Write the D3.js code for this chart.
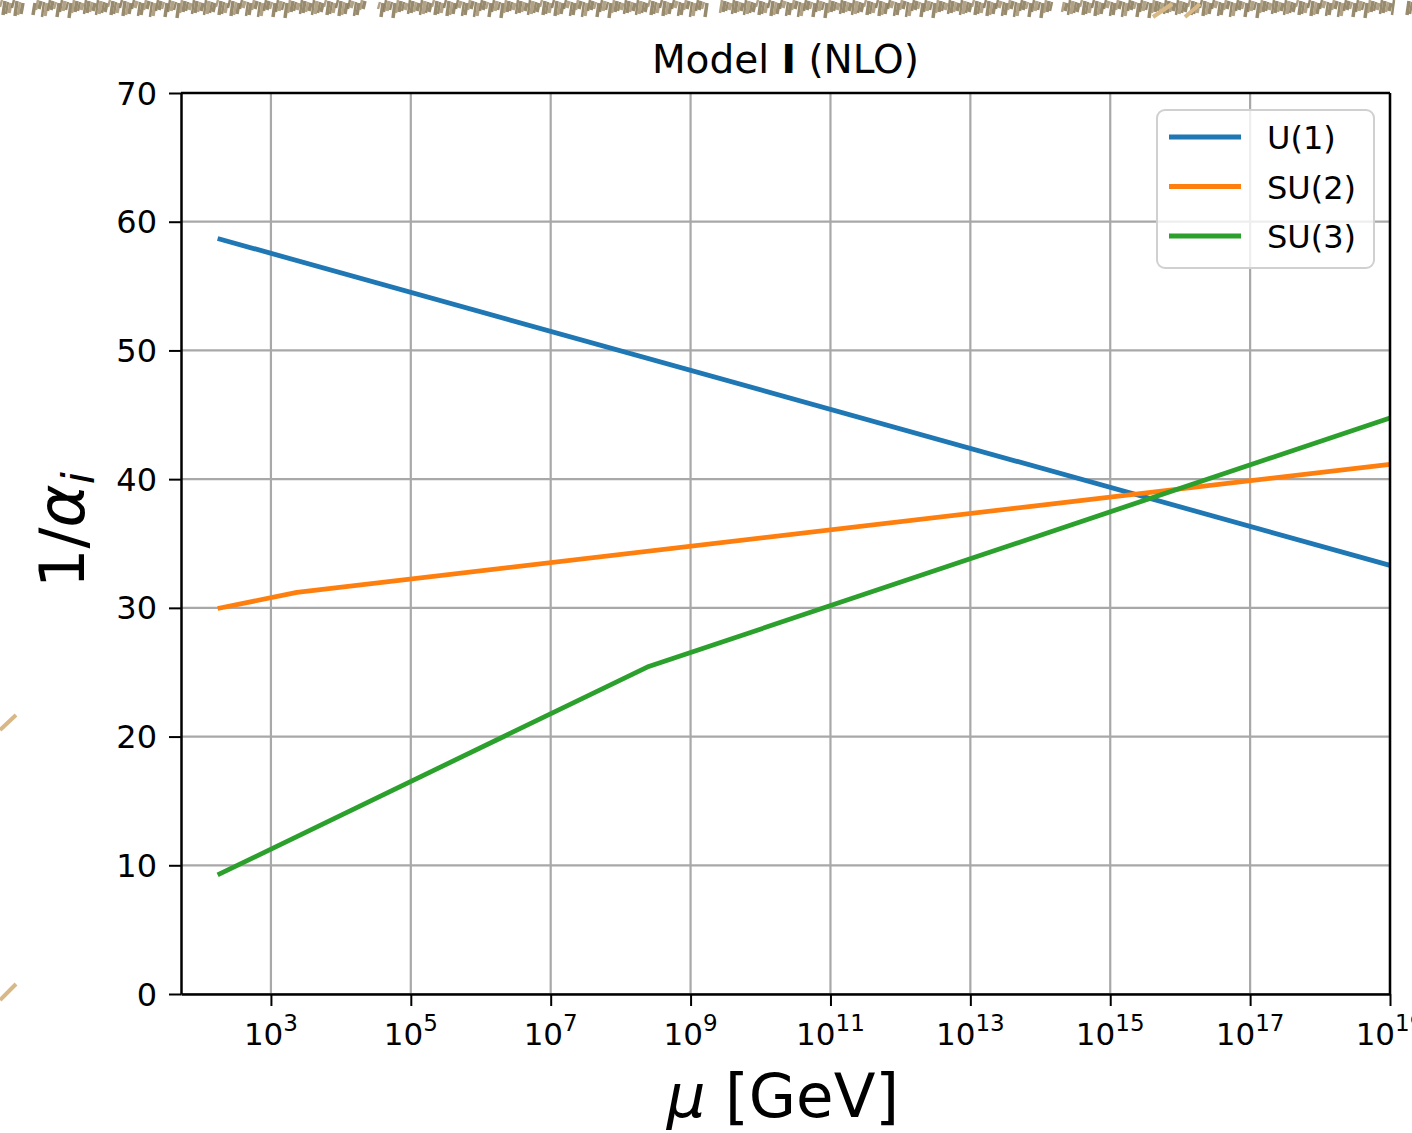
<!DOCTYPE html>
<html lang="en">
<head>
    <meta charset="UTF-8">
    <title>Model I (NLO)</title>
    <script src="https://d3js.org/d3.v7.min.js"></script>
    <style>
        body {
            margin: 0;
            padding: 0;
            background: #fff;
            overflow: hidden;
        }
        svg text {
            font-family: "DejaVu Sans", sans-serif;
            fill: #000;
        }
        .grid line {
            stroke: #a8a8a8;
            stroke-width: 2.2px;
        }
    </style>
</head>
<body>
<div id="chart"></div>
<script>
    // --- data ---
    // scale mu in GeV where each line starts / bends / ends
    const u1Mu  = [173, 1e19];
    const u1Inv = [58.7, 33.3];

    const su2Mu  = [173, 2.35e3, 1e19];
    const su2Inv = [29.95, 31.2, 41.15];

    const su3Mu  = [173, 2.4e8, 1e19];
    const su3Inv = [9.25, 25.4, 44.75];

    const seriesNames  = ["U(1)", "SU(2)", "SU(3)"];
    const seriesColors = ["#1f77b4", "#ff7f0e", "#2ca02c"];

    const xTickExps = [3, 5, 7, 9, 11, 13, 15, 17, 19];
    const yTicks = [0, 10, 20, 30, 40, 50, 60, 70];

    const W = 1412, H = 1133;
    const plot = { left: 181, right: 1390, top: 93, bottom: 994 };

    const svg = d3.select("#chart").append("svg")
        .attr("width", W)
        .attr("height", H);

    // background decoration (slide texture at the top edge + a few strokes)
    const deco = svg.append("g");
    for (let x = 0; x < W; x += 3) {
        const k = Math.floor(x / 3);
        const inGap = [0, 1, 2, 3, 4].some(i => Math.abs(x - (27 + 343 * i)) < 6);
        if (inGap) continue;
        const len = 7 + (k * 7) % 9;
        const y0 = (k * 5) % 4;
        deco.append("line")
            .attr("x1", x).attr("y1", y0 + len)
            .attr("x2", x + 2).attr("y2", y0)
            .attr("stroke", (k % 3 === 0) ? "#a39271" : "#857553")
            .attr("stroke-width", 2.5 + (k % 2))
            .attr("stroke-opacity", 0.85);
    }
    const beige = [
        [0, 730, 16, 715], [0, 1000, 16, 984],
        [1153, 17, 1172, 4], [1185, 17, 1200, 4]
    ];
    beige.forEach(s => deco.append("line")
        .attr("x1", s[0]).attr("y1", s[1]).attr("x2", s[2]).attr("y2", s[3])
        .attr("stroke", "#d8b887").attr("stroke-width", 4));

    // --- scales ---
    const x = d3.scaleLog()
        .domain([Math.pow(10, 3 - 90 / 70), 1e19])
        .range([plot.left, plot.right]);
    const y = d3.scaleLinear()
        .domain([0, 70])
        .range([plot.bottom, plot.top]);

    // --- grid ---
    const grid = svg.append("g").attr("class", "grid");
    grid.selectAll(".gx").data(xTickExps).join("line")
        .attr("x1", d => x(Math.pow(10, d))).attr("x2", d => x(Math.pow(10, d)))
        .attr("y1", plot.top).attr("y2", plot.bottom);
    grid.selectAll(".gy").data(yTicks).join("line")
        .attr("y1", d => y(d)).attr("y2", d => y(d))
        .attr("x1", plot.left).attr("x2", plot.right);

    // --- lines ---
    const seriesData = [
        u1Mu.map((m, i) => [m, u1Inv[i]]),
        su2Mu.map((m, i) => [m, su2Inv[i]]),
        su3Mu.map((m, i) => [m, su3Inv[i]])
    ];
    const line = d3.line().x(d => x(d[0])).y(d => y(d[1]));
    svg.append("g").selectAll("path").data(seriesData).join("path")
        .attr("d", line)
        .attr("fill", "none")
        .attr("stroke", (d, i) => seriesColors[i])
        .attr("stroke-width", 4.8)
        .attr("stroke-linejoin", "round");

    // --- axes (spines + ticks) ---
    const xAxis = svg.append("g")
        .attr("transform", `translate(0,${plot.bottom})`)
        .call(d3.axisBottom(x)
            .tickValues(xTickExps.map(e => Math.pow(10, e)))
            .tickSize(12).tickSizeOuter(0).tickFormat(""));
    xAxis.selectAll("line").attr("stroke", "#000").attr("stroke-width", 2);
    xAxis.select(".domain").attr("stroke", "#000").attr("stroke-width", 2.5);

    const yAxis = svg.append("g")
        .attr("transform", `translate(${plot.left},0)`)
        .call(d3.axisLeft(y).tickValues(yTicks).tickSize(12).tickSizeOuter(0).tickFormat(""));
    yAxis.selectAll("line").attr("stroke", "#000").attr("stroke-width", 2);
    yAxis.select(".domain").attr("stroke", "#000").attr("stroke-width", 2.5);

    // top / right spines
    svg.append("line").attr("x1", plot.left).attr("x2", plot.right)
        .attr("y1", plot.top).attr("y2", plot.top)
        .attr("stroke", "#000").attr("stroke-width", 2.5);
    svg.append("line").attr("x1", plot.right).attr("x2", plot.right)
        .attr("y1", plot.top).attr("y2", plot.bottom)
        .attr("stroke", "#000").attr("stroke-width", 2.5);

    // tick labels (the last one runs off the right edge, as in the original)
    const xl = svg.append("g").selectAll("text").data(xTickExps).join("text")
        .attr("x", d => x(Math.pow(10, d)))
        .attr("y", 1045)
        .attr("text-anchor", "middle")
        .attr("font-size", 31);
    xl.append("tspan").text("10");
    xl.append("tspan").text(d => d).attr("font-size", 23).attr("dy", -14);

    svg.append("g").selectAll("text").data(yTicks).join("text")
        .attr("x", 157)
        .attr("y", d => y(d) + 11.5)
        .attr("text-anchor", "end")
        .attr("font-size", 32)
        .text(d => d);

    // title
    const title = svg.append("text")
        .attr("x", (plot.left + plot.right) / 2)
        .attr("y", 73)
        .attr("text-anchor", "middle")
        .attr("font-size", 39);
    title.append("tspan").text("Model ");
    title.append("tspan").text("I").attr("font-weight", "bold");
    title.append("tspan").text(" (NLO)");

    // axis labels
    const xLab = svg.append("text")
        .attr("x", 783).attr("y", 1117)
        .attr("text-anchor", "middle")
        .attr("font-size", 61);
    xLab.append("tspan").text("μ").attr("font-style", "italic");
    xLab.append("tspan").text(" [GeV]");

    const yLab = svg.append("text")
        .attr("transform", "translate(84,530) rotate(-90)")
        .attr("text-anchor", "middle")
        .attr("font-size", 62);
    yLab.append("tspan").text("1/");
    yLab.append("tspan").text("α").attr("font-style", "italic").attr("font-size", 66);
    yLab.append("tspan").text("i").attr("font-style", "italic")
        .attr("font-size", 44).attr("dy", 10);

    // legend
    const lg = svg.append("g").attr("transform", "translate(1157,110)");
    lg.append("rect")
        .attr("width", 217).attr("height", 158)
        .attr("rx", 8)
        .attr("fill", "#fff").attr("fill-opacity", 0.8)
        .attr("stroke", "#d0d0d0").attr("stroke-width", 2);
    seriesNames.forEach((name, i) => {
        const yy = 27 + i * 49.5;
        lg.append("line")
            .attr("x1", 12).attr("x2", 84)
            .attr("y1", yy).attr("y2", yy)
            .attr("stroke", seriesColors[i]).attr("stroke-width", 4.8);
        lg.append("text")
            .attr("x", 110).attr("y", yy + 12)
            .attr("font-size", 32)
            .text(name);
    });
</script>
</body>
</html>
